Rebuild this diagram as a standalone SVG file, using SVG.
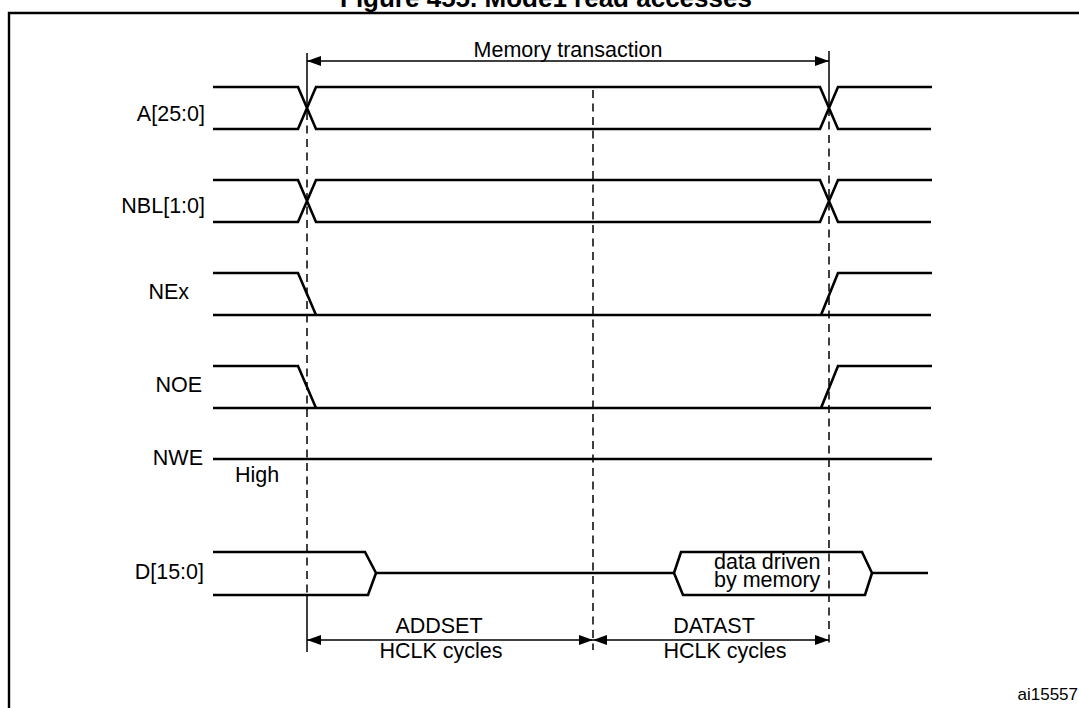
<svg xmlns="http://www.w3.org/2000/svg" width="1079" height="708" viewBox="0 0 1079 708">
<style>
text{font-family:"Liberation Sans",Arial,sans-serif;font-size:21.5px;fill:#000}
.title{font-weight:bold;font-size:26px}
.lbl{text-anchor:end}
.sig{fill:none;stroke:#000;stroke-width:2.6;stroke-linejoin:miter}
.frame{fill:none;stroke:#000;stroke-width:2.4}
.dash{fill:none;stroke:#000;stroke-width:1.5;stroke-dasharray:8 5.5}
.ext{fill:none;stroke:#000;stroke-width:1.5}
.dim{fill:none;stroke:#000;stroke-width:1.5;marker-start:url(#ah);marker-end:url(#ah)}
</style>
<defs>
<marker id="ah" viewBox="0 0 14 10" refX="14" refY="5" markerWidth="14" markerHeight="10" markerUnits="userSpaceOnUse" orient="auto-start-reverse">
<path d="M0,0 L14,5 L0,10 z" fill="#000"/>
</marker>
</defs>
<rect width="1079" height="708" fill="#fff"/>
<text class="title" x="340" y="7">Figure 455. Mode1 read accesses</text>
<path class="frame" d="M9,720 V13 H1090"/>

<g id="connectors">
<path class="ext" d="M307,53 V112 M307,595 V652 M829,51 V108"/>
<path class="dash" d="M307,112 V595 M829,108 V646 M593,90 V650"/>
<line class="dim" x1="307" y1="61" x2="829" y2="61"/>
<line class="dim" x1="307" y1="640" x2="593" y2="640"/>
<line class="dim" x1="593" y1="640" x2="829" y2="640"/>
<text x="568" y="57" text-anchor="middle">Memory transaction</text>
<text x="439" y="633" text-anchor="middle">ADDSET</text>
<text x="441" y="658" text-anchor="middle">HCLK cycles</text>
<text x="714" y="633" text-anchor="middle">DATAST</text>
<text x="725" y="658" text-anchor="middle">HCLK cycles</text>
</g>

<g id="sig-a">
<text class="lbl" x="205" y="121">A[25:0]</text>
<path class="sig" d="M213,87 H298 L316,129 H820 L838,87 H932 M213,129 H298 L316,87 H820 L838,129 H931"/>
</g>

<g id="sig-nbl">
<text class="lbl" x="205" y="213">NBL[1:0]</text>
<path class="sig" d="M213,180 H298 L316,222 H820 L838,180 H932 M213,222 H298 L316,180 H820 L838,222 H931"/>
</g>

<g id="sig-nex">
<text class="lbl" x="189" y="299">NEx</text>
<path class="sig" d="M213,273 H298 L316,315 M213,315 H931 M821,315 L838,273 H932"/>
</g>

<g id="sig-noe">
<text class="lbl" x="202" y="392">NOE</text>
<path class="sig" d="M213,366 H298 L316,408 M213,408 H931 M821,408 L838,366 H932"/>
</g>

<g id="sig-nwe">
<text class="lbl" x="203" y="465">NWE</text>
<text x="235" y="482">High</text>
<path class="sig" d="M213,459 H932"/>
</g>

<g id="sig-d">
<text class="lbl" x="204" y="579">D[15:0]</text>
<path class="sig" d="M213,552 H365 L376,573 L368,595 H213 M376,573 H674 L681,552 H862 L872,573 L865,595 H683 L674,573 M872,573 H928"/>
<text x="714" y="569">data driven</text>
<text x="714" y="587">by memory</text>
</g>

<text x="1078" y="700" text-anchor="end" style="font-size:17px">ai15557</text>
</svg>
